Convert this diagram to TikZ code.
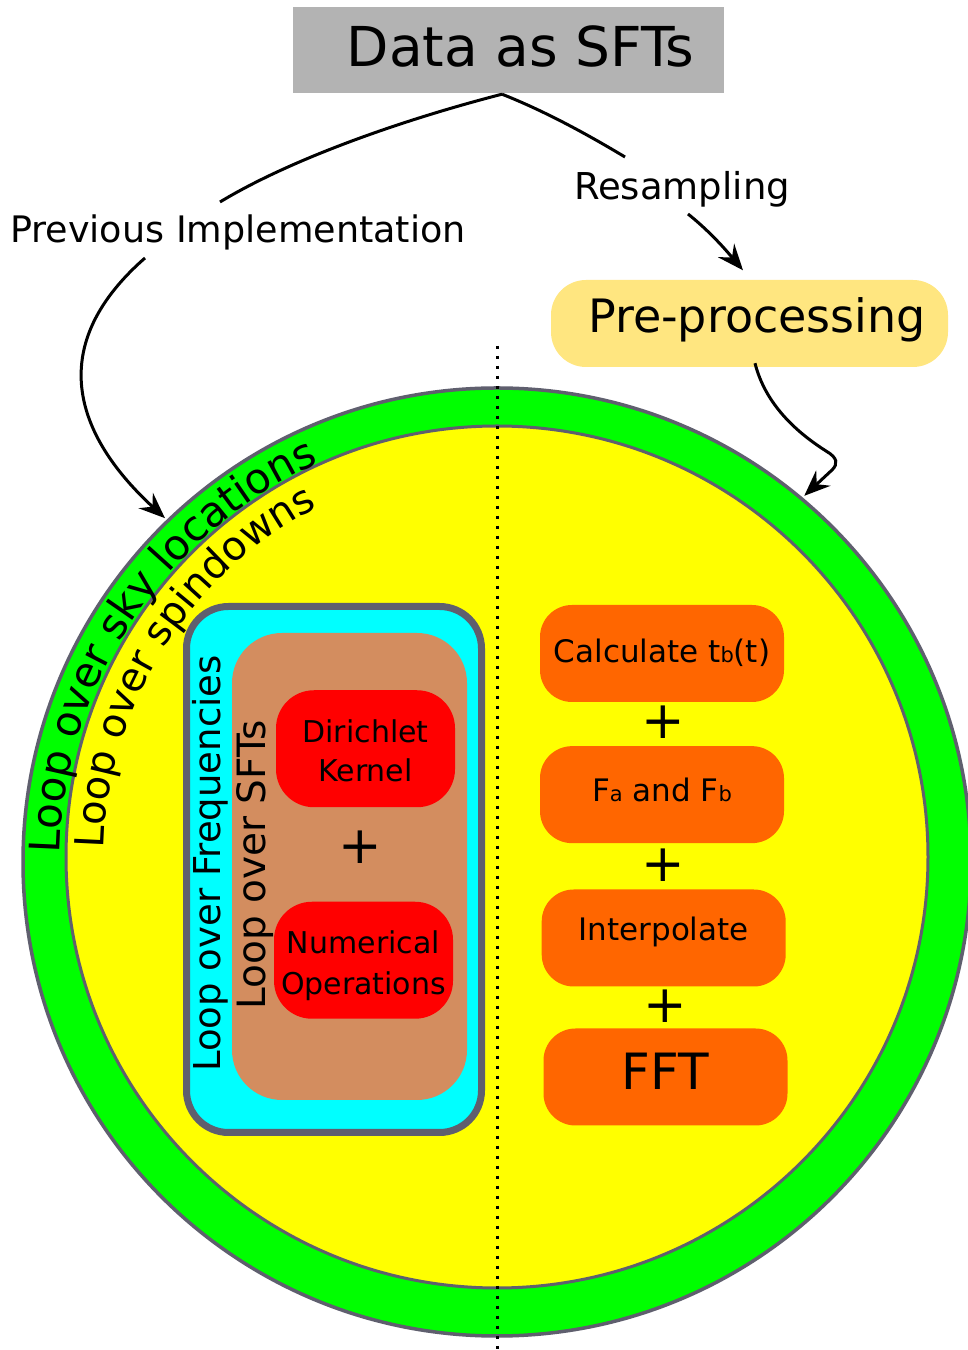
\documentclass[tikz,border=0pt]{standalone}
\usepackage{fontspec}
\setmainfont{DejaVu Sans}
\usetikzlibrary{arrows.meta,calc,decorations.text}
\definecolor{ringgray}{RGB}{95,95,110}
\definecolor{grnfill}{RGB}{0,255,0}
\definecolor{ylwfill}{RGB}{255,255,0}
\definecolor{cyanfill}{RGB}{0,255,255}
\definecolor{brownfill}{RGB}{211,141,95}
\definecolor{redfill}{RGB}{255,0,0}
\definecolor{orangefill}{RGB}{255,102,0}
\definecolor{prefill}{RGB}{255,230,128}
\definecolor{datafill}{RGB}{179,179,179}
\newcommand{\subsm}[1]{{\fontsize{21}{21}\selectfont #1}}
\begin{document}
\begin{tikzpicture}[x=1pt,y=1pt,
  fs/.style={font=\fontsize{#1}{#1}\selectfont},
  conn/.style={line width=3pt,-{Stealth[length=26pt,width=21pt,inset=9pt]}},
  connplain/.style={line width=3pt},
  opbox/.style={fill=orangefill,rounded corners=32pt,minimum width=244pt,minimum height=97pt,inner sep=0pt,font=\fontsize{31}{31}\selectfont,text depth=0pt},
  redbox/.style={fill=redfill,rounded corners=38pt,minimum width=179pt,minimum height=117pt,inner sep=0pt},
  redtext/.style={inner sep=0pt,align=center},
  plussign/.style={inner sep=0pt,font=\fontsize{52}{52}\selectfont},
  looplbl/.style={rotate=90,inner sep=0pt},
  ring/.style={draw=ringgray}
  ]
\useasboundingbox (0,0) rectangle (968,1350);
\clip (0,0) rectangle (968,1350);
\fill[white] (0,0) rectangle (968,1350);

\coordinate (oc) at (497,488);
\coordinate (ic) at (497,493);

% rings
\draw[ring,line width=3.5pt,fill=grnfill] (oc) circle[radius=474];
\draw[ring,line width=3pt,fill=ylwfill] (ic) circle[radius=431];

% divider
\coordinate (divtop) at (497,1004);
\coordinate (divbot) at (497,0);
\draw[line width=3pt,dash pattern=on 3pt off 7pt] (divtop) -- (divbot);

% curved labels
\path[decorate,decoration={text along path,text align=center,
  text={|\fontsize{42}{42}\selectfont|Loop over sky locations}}]
  ($(oc)+(180:437)$) arc[start angle=180,end angle=113,radius=437];
\path[decorate,decoration={text along path,text align=center,
  text={|\fontsize{40}{40}\selectfont|Loop over spindowns}}]
  ($(ic)+(180:393)$) arc[start angle=180,end angle=116,radius=393];

% left nested loops
\node[draw=ringgray,line width=7pt,fill=cyanfill,rounded corners=42pt,minimum width=295pt,minimum height=526pt] (freqbox) at (334,480.5) {};
\node[fill=brownfill,rounded corners=50pt,minimum width=235pt,minimum height=467pt] (sftbox) at (349.5,483.5) {};
\node[redbox] (dirichlet) at (365.5,601.25) {};
\node[redbox] (numops) at (363.5,389.75) {};
\node[redtext,font=\fontsize{30}{39.5}\selectfont] (dirichlettxt) at ($(dirichlet.center)+(0,-2.1)$) {Dirichlet\\Kernel};
\node[redtext,font=\fontsize{30}{41}\selectfont] (numopstxt) at ($(numops.center)+(0,-5.4)$) {Numerical\\Operations};
\node[plussign] (plusL) at (360,502.5) {+};
\node[looplbl,font=\fontsize{37}{37}\selectfont] (freqlbl) at (210.2,486.5) {Loop over Frequencies};
\node[looplbl,font=\fontsize{39}{39}\selectfont] (sftlbl) at (255,485) {Loop over SFTs};

% right pipeline
\node[opbox,text height=18.4pt] (calc) at (662,696.5) {Calculate t\subsm{b}(t)};
\node[opbox,text height=14.1pt] (fafb) at (662,555.35) {F\subsm{a} and F\subsm{b}};
\node[opbox,text height=6pt] (interp) at (663.7,412) {Interpolate};
\node[opbox,text height=26pt,font=\fontsize{50}{50}\selectfont] (fft) at (665.5,273) {FFT};
\node[plussign] (plusA) at (663.5,628) {+};
\node[plussign] (plusB) at (663.5,485) {+};
\node[plussign] (plusC) at (665,343.5) {+};

% top
\node[fill=datafill,minimum width=431pt,minimum height=86pt,inner sep=0pt,fs=55,text height=34pt,text depth=0pt] (data) at (508.5,1300) {\hspace*{24pt}Data as SFTs};
\node[fill=prefill,rounded corners=35pt,minimum width=397pt,minimum height=87pt,inner sep=0pt,fs=46,text height=19pt,text depth=0pt] (pre) at (749.5,1026.5) {\hspace*{15pt}Pre-processing};
\node[fs=36.5,anchor=base,inner sep=0pt] (prev) at (238,1107.3) {Previous Implementation};
\node[fs=37,anchor=base,inner sep=0pt] (resamp) at (682,1150) {Resampling};

% connector end points
\coordinate (fork) at ($(data.south)+(-6.5,-1)$);
\coordinate (prevtop) at ($(prev.base)+(-18,40.7)$);
\coordinate (prevbot) at ($(prev.base)+(-93,-15.3)$);
\coordinate (resA) at ($(resamp.base)+(-57,43)$);
\coordinate (resB) at ($(resamp.base)+(6,-14)$);
\coordinate (pretop) at ($(pre.north)+(-6.5,9.5)$);
\coordinate (prebot) at ($(pre.south)+(5.5,4)$);
\coordinate (skyL) at ($(oc)+(134:478)$);
\coordinate (skyR) at ($(oc)+(50:478)$);

% connectors
\draw[connplain] (fork) .. controls (402,1230) and (291,1191) .. (prevtop);
\draw[conn] (prevbot) .. controls (40,1000) and (80,910) .. (skyL);
\draw[connplain] (fork) .. controls (547,1238) and (590,1214) .. (resA);
\draw[conn] (resB) .. controls (713,1116) and (730,1095) .. (pretop);
\draw[conn] (prebot) .. controls (763,955) and (785,925) .. (826,899)
  .. controls (838,892) and (838,886) .. (832,880) -- (skyR);
\end{tikzpicture}
\end{document}
